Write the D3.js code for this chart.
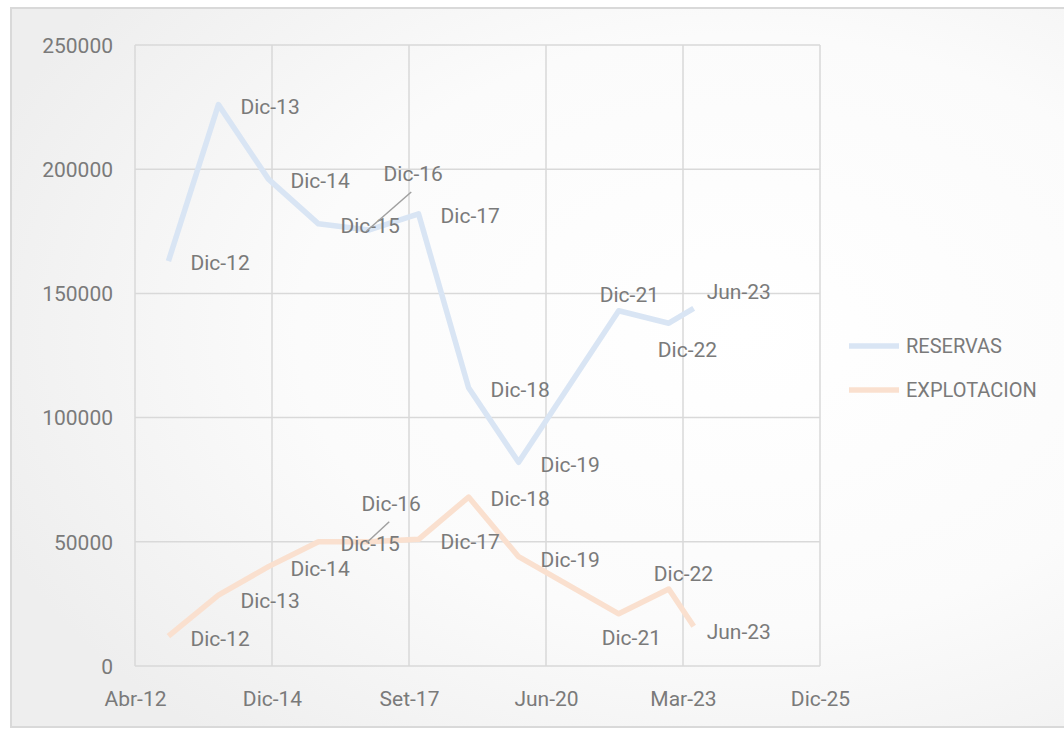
<!DOCTYPE html>
<html>
<head>
<meta charset="utf-8">
<script src="https://cdn.jsdelivr.net/npm/d3@7"></script>
<style>
  html, body { margin: 0; padding: 0; background: #ffffff; }
  svg { display: block; }
  text { font-family: Roboto, "Liberation Sans", sans-serif; }
</style>
</head>
<body>
<svg id="chart" width="1064" height="729"></svg>
<script>
// ---------------- DATA ----------------
const pointLabels = ["Dic-12","Dic-13","Dic-14","Dic-15","Dic-16","Dic-17","Dic-18","Dic-19","Dic-21","Dic-22","Jun-23"];
const pointDates  = ["2012-12-01","2013-12-01","2014-12-01","2015-12-01","2016-12-01","2017-12-01","2018-12-01","2019-12-01","2021-12-01","2022-12-01","2023-06-01"];
const reservas    = [163000, 226000, 196000, 178000, 175500, 182000, 112000, 82000, 143000, 138000, 144000];
const explotacion = [12000, 28500, 40000, 50000, 50000, 51000, 68000, 44000, 21000, 31000, 16000];
const seriesNames = ["RESERVAS", "EXPLOTACION"];
const xTickLabels = ["Abr-12","Dic-14","Set-17","Jun-20","Mar-23","Dic-25"];
const yTicks      = [0, 50000, 100000, 150000, 200000, 250000];

// ---------------- LAYOUT ----------------
const W = 1064, H = 729;
const plot = { left: 135, right: 820, top: 45, bottom: 666 };
const colors = ["#d9e5f4", "#fae0cf"];
const textColor = "#7a7a7a";
const gridColor = "#d9d9d9";
const fontSize = 21;

// label placement relative to the point (dx = text start, dy = text centre)
const defaultOffset = { dx: 22, dy: 2 };
const labelLayout = [
  { // RESERVAS
    "Dic-16": { dx: 15, dy: -56, leader: true },
    "Dic-21": { dx: -19, dy: -16 },
    "Dic-22": { dx: -11, dy: 26 },
    "Jun-23": { dx: 13, dy: -17 }
  },
  { // EXPLOTACION
    "Dic-13": { dx: 22, dy: 5 },
    "Dic-16": { dx: -7, dy: -38, leader: true },
    "Dic-19": { dx: 22, dy: 3 },
    "Dic-21": { dx: -17, dy: 24 },
    "Dic-22": { dx: -15, dy: -15 },
    "Jun-23": { dx: 13, dy: 5 }
  }
];

const parse = d3.timeParse("%Y-%m-%d");
const dates = pointDates.map(parse);
const xStart = parse("2012-04-01");
const xTicks = xTickLabels.map((_, i) => d3.timeDay.offset(xStart, i * 1000));

const x = d3.scaleTime().domain([xTicks[0], xTicks[xTicks.length - 1]]).range([plot.left, plot.right]);
const y = d3.scaleLinear().domain([0, 250000]).range([plot.bottom, plot.top]);

const svg = d3.select("#chart");
const defs = svg.append("defs");
const grad = defs.append("radialGradient").attr("id", "bg")
  .attr("cx", "68%").attr("cy", "45%").attr("r", "75%");
grad.append("stop").attr("offset", "0%").attr("stop-color", "#ffffff");
grad.append("stop").attr("offset", "55%").attr("stop-color", "#fbfbfb");
grad.append("stop").attr("offset", "100%").attr("stop-color", "#eeeeee");

svg.append("rect").attr("x", 11).attr("y", 8).attr("width", W + 10).attr("height", 719)
  .attr("fill", "url(#bg)").attr("stroke", gridColor).attr("stroke-width", 2);

// gridlines
const g = svg.append("g");
g.selectAll("line.hgrid").data(yTicks).join("line").attr("class", "hgrid")
  .attr("x1", plot.left).attr("x2", plot.right)
  .attr("y1", d => y(d)).attr("y2", d => y(d))
  .attr("stroke", gridColor).attr("stroke-width", 1.5);
g.selectAll("line.vgrid").data(xTicks).join("line").attr("class", "vgrid")
  .attr("x1", d => x(d)).attr("x2", d => x(d))
  .attr("y1", plot.top).attr("y2", plot.bottom)
  .attr("stroke", gridColor).attr("stroke-width", 1.5);

// axes (labels only)
const yAxis = d3.axisLeft(y).tickValues(yTicks).tickSize(0).tickPadding(22).tickFormat(d3.format("d"));
const yg = svg.append("g").attr("transform", `translate(${plot.left},0)`).call(yAxis);
const xAxis = d3.axisBottom(x).tickValues(xTicks).tickSize(0).tickPadding(33)
  .tickFormat((d, i) => xTickLabels[i]);
const xg = svg.append("g").attr("transform", `translate(0,${plot.bottom})`).call(xAxis);
[yg, xg].forEach(a => {
  a.select(".domain").remove();
  a.selectAll("text").attr("fill", textColor).style("font-size", fontSize + "px")
    .style("font-family", "Roboto, 'Liberation Sans', sans-serif");
});
yg.selectAll("text").attr("dy", "0.35em");
xg.selectAll("text").attr("dy", "0.35em");

// lines
const seriesValues = [reservas, explotacion];
const line = d3.line().x(d => x(d[0])).y(d => y(d[1]));
seriesValues.forEach((vals, s) => {
  const pts = vals.map((v, i) => [dates[i], v]);
  svg.append("path").datum(pts).attr("d", line)
    .attr("fill", "none").attr("stroke", colors[s]).attr("stroke-width", 5.5)
    .attr("stroke-linejoin", "round").attr("stroke-linecap", "butt");
});

// data labels
seriesValues.forEach((vals, s) => {
  const lg = svg.append("g");
  vals.forEach((v, i) => {
    const lab = pointLabels[i];
    const off = labelLayout[s][lab] || defaultOffset;
    const px = x(dates[i]), py = y(v);
    const tx = px + off.dx, ty = py + off.dy;
    const t = lg.append("text").attr("x", tx).attr("y", ty).attr("dy", "0.35em")
      .attr("fill", textColor).style("font-size", fontSize + "px").text(lab);
    if (off.leader) {
      const w = t.node().getComputedTextLength();
      lg.append("line").attr("x1", px - 2).attr("y1", py + 1)
        .attr("x2", tx + w / 2 - 2).attr("y2", ty + 18)
        .attr("stroke", "#a0a0a0").attr("stroke-width", 1.5);
    }
  });
});

// legend
const legend = svg.append("g");
const legendY = [346, 390];
seriesNames.forEach((name, s) => {
  legend.append("line").attr("x1", 849).attr("x2", 899)
    .attr("y1", legendY[s]).attr("y2", legendY[s])
    .attr("stroke", colors[s]).attr("stroke-width", 5.5);
  legend.append("text").attr("x", 906).attr("y", legendY[s]).attr("dy", "0.35em")
    .attr("fill", textColor).style("font-size", "20px").text(name);
});
</script>
</body>
</html>
